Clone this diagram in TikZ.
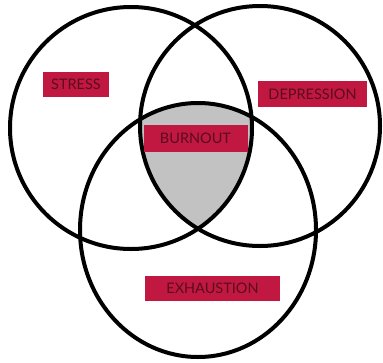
\documentclass[tikz,border=0pt]{standalone}
\usepackage{fontspec}
\setmainfont{Lato}
\definecolor{boxred}{HTML}{C01840}
\definecolor{txtred}{HTML}{5A0C1E}
\definecolor{burngray}{HTML}{C2C2C2}
\begin{document}
\begin{tikzpicture}[x=1pt,y=-1pt,
  ring/.style={line width=4pt,draw=black},
  label/.style={fill=boxred,text=txtred,inner sep=0pt,font=\fontsize{14.5}{14.5}\selectfont}]
\useasboundingbox (0,0) rectangle (383,362);
% gray triple intersection
\begin{scope}
  \clip (131,128) circle[radius=121pt];
  \clip (260,126) circle[radius=120pt];
  \fill[burngray] (198,230) ellipse[x radius=118pt,y radius=127pt];
\end{scope}
\draw[ring] (131,128) circle[radius=121pt];
\draw[ring] (260,126) circle[radius=120pt];
\draw[ring] (198,230) ellipse[x radius=118pt,y radius=127pt];
\node[label,minimum width=66pt,minimum height=25pt] (stress) at (76,84.5) {STRESS};
\node[label,minimum width=109pt,minimum height=26pt] (depr) at (312.5,94) {DEPRESSION};
\node[label,minimum width=104pt,minimum height=27pt] (burn) at (195.5,138.5) {BURNOUT};
\node[label,minimum width=135pt,minimum height=25pt] (exh) at (212.5,288) {EXHAUSTION};
\end{tikzpicture}
\end{document}
